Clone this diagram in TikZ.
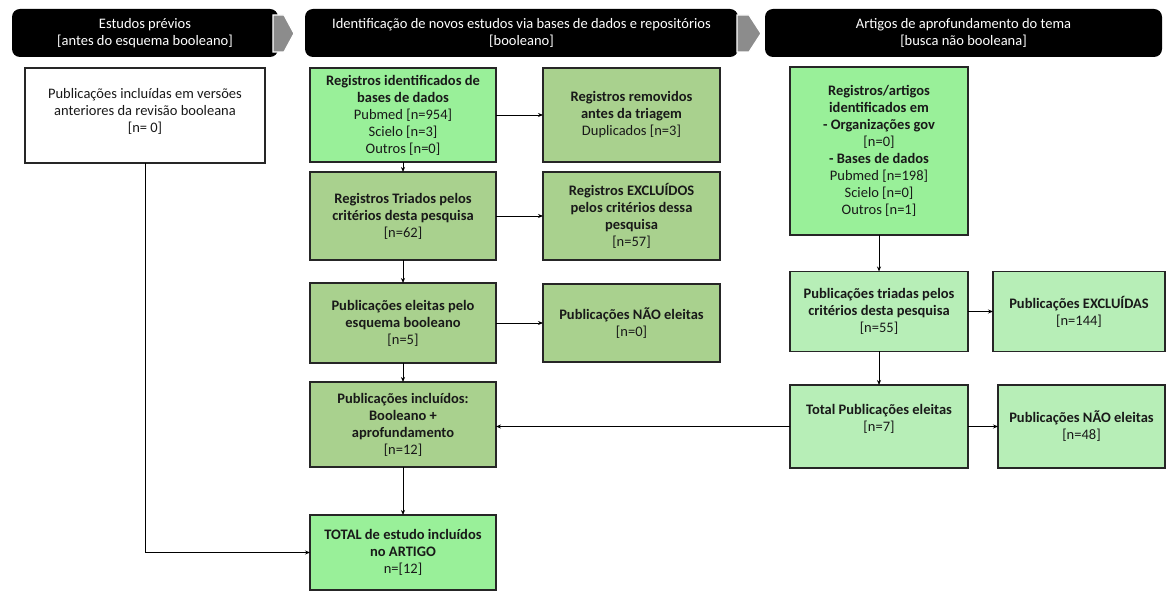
\documentclass[tikz,border=0pt]{standalone}
\usepackage{fontspec}
\setmainfont{Carlito}
\usetikzlibrary{arrows.meta}
\definecolor{brightg}{RGB}{153,240,153}
\definecolor{oliveg}{RGB}{169,209,142}
\definecolor{paleg}{RGB}{183,238,183}
\definecolor{arrowgray}{RGB}{140,140,140}
\begin{document}
\begin{tikzpicture}[x=1pt,y=-1pt,
  every node/.style={font=\fontsize{14.5}{17}\selectfont},
  box/.style={draw=black!85, line width=1.6pt, align=center, inner sep=0pt, outer sep=0pt, text=black!90},
  hdr/.style={fill=black, rounded corners=8pt, align=center, text=white, inner sep=0pt, minimum height=48pt},
  conn/.style={line width=0.9pt, -{Stealth[length=5pt,width=4pt]}},
  grayarrow/.style={fill=arrowgray, draw=white, line width=1.2pt}
]
\useasboundingbox[fill=white] (0,0) rectangle (1167,593);

% header bars
\node[hdr, minimum width=266pt] (h1) at (145,33) {Estudos prévios\\{[antes do esquema booleano]}};
\node[hdr, minimum width=433pt] (h2) at (521.5,33) {Identificação de novos estudos via bases de dados e repositórios\\{[booleano]}};
\node[hdr, minimum width=397pt] (h3) at (963.5,33) {Artigos de aprofundamento do tema\\{[busca não booleana]}};
\path[grayarrow] (273,15) -- (284,15) -- (294,33.5) -- (284,52) -- (273,52) -- cycle;
\path[grayarrow] (737,15) -- (749,15) -- (761,33.5) -- (749,52) -- (737,52) -- cycle;

% left column
\node[box, fill=white, minimum width=240pt, minimum height=95pt] (left) at (145,115.5)
  {Publicações incluídas em versões\\anteriores da revisão booleana\\{[n= 0]}\\[-6pt]\mbox{}};

% middle columns
\node[box, fill=brightg, minimum width=186pt, minimum height=94pt] (b1) at (403,115)
  {\textbf{Registros identificados de}\\\textbf{bases de dados}\\Pubmed [n=954]\\Scielo [n=3]\\Outros [n=0]};
\node[box, fill=oliveg, minimum width=177pt, minimum height=94pt] (rem) at (631.5,115)
  {\textbf{Registros removidos}\\\textbf{antes da triagem}\\Duplicados [n=3]};
\node[box, fill=oliveg, minimum width=186pt, minimum height=88pt] (tri) at (403,216)
  {\textbf{Registros Triados pelos}\\\textbf{critérios desta pesquisa}\\{[n=62]}};
\node[box, fill=oliveg, minimum width=177pt, minimum height=88pt] (exc) at (631.5,216)
  {\textbf{Registros EXCLUÍDOS}\\\textbf{pelos critérios dessa}\\\textbf{pesquisa}\\{[n=57]}};
\node[box, fill=oliveg, minimum width=186pt, minimum height=80pt] (ele) at (403,323)
  {\textbf{Publicações eleitas pelo}\\\textbf{esquema booleano}\\{[n=5]}};
\node[box, fill=oliveg, minimum width=177pt, minimum height=78pt] (nele) at (631.5,323)
  {\textbf{Publicações NÃO eleitas}\\{[n=0]}};
\node[box, fill=oliveg, minimum width=186pt, minimum height=85pt] (inc) at (403,424.5)
  {\textbf{Publicações incluídos:}\\\textbf{Booleano +}\\\textbf{aprofundamento}\\{[n=12]}};
\node[box, fill=brightg, minimum width=186pt, minimum height=75pt] (tot) at (403,552.5)
  {\textbf{TOTAL de estudo incluídos}\\\textbf{no ARTIGO}\\n=[12]};

% right columns
\node[box, fill=brightg, minimum width=178pt, minimum height=168pt] (tall) at (879,151)
  {\textbf{Registros/artigos}\\\textbf{identificados em}\\\textbf{- Organizações gov}\\{[n=0]}\\\textbf{- Bases de dados}\\Pubmed [n=198]\\Scielo [n=0]\\Outros [n=1]};
\node[box, fill=paleg, minimum width=178pt, minimum height=80pt] (tria) at (879,311.5)
  {\textbf{Publicações triadas pelos}\\\textbf{critérios desta pesquisa}\\{[n=55]}};
\node[box, fill=paleg, minimum width=172pt, minimum height=80pt] (excl) at (1079,311.5)
  {\textbf{Publicações EXCLUÍDAS}\\{[n=144]}};
\node[box, fill=paleg, minimum width=178pt, minimum height=83pt] (tel) at (879,426.5)
  {\textbf{Total Publicações eleitas}\\{[n=7]}\\\mbox{}};
\node[box, fill=paleg, minimum width=167pt, minimum height=83pt] (nel48) at (1081.5,426.5)
  {\textbf{Publicações NÃO eleitas}\\{[n=48]}};

% connectors
\draw[conn] (left.south) |- (tot.west);
\draw[conn] (b1) -- (rem);
\draw[conn] (b1) -- (tri);
\draw[conn] (tri) -- (exc);
\draw[conn] (tri) -- (ele);
\draw[conn] (ele) -- (nele);
\draw[conn] (ele) -- (inc);
\draw[conn] (inc) -- (tot);
\draw[conn] (tall) -- (tria);
\draw[conn] (tria) -- (excl);
\draw[conn] (tria) -- (tel);
\draw[conn] (tel.west) -- (tel.west -| inc.east);
\draw[conn] (tel) -- (nel48);
\end{tikzpicture}
\end{document}
